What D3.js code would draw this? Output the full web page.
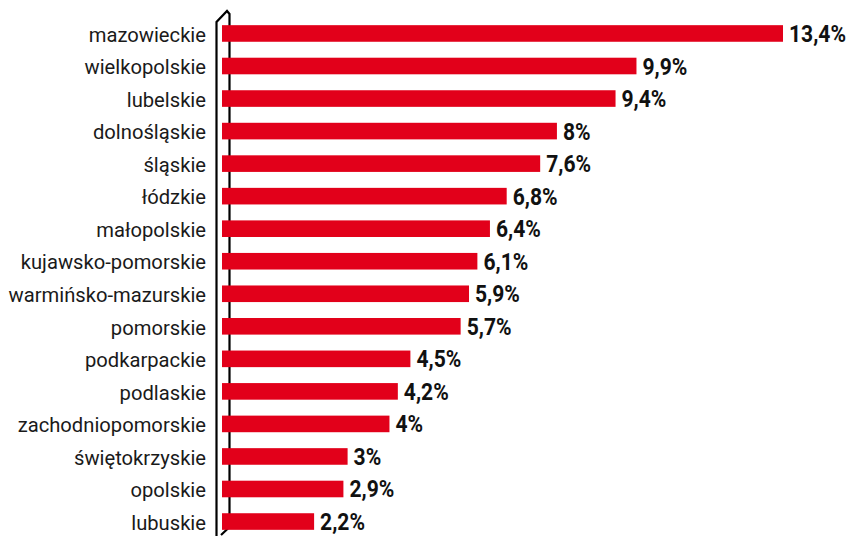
<!DOCTYPE html>
<html><head><meta charset="utf-8">
<script src="https://cdn.jsdelivr.net/npm/d3@7"></script>
<style>body{margin:0;background:#fff}</style>
</head><body>
<svg id="c" width="849" height="536"></svg>
<script>
const categories = ["mazowieckie","wielkopolskie","lubelskie","dolnośląskie","śląskie","łódzkie","małopolskie","kujawsko-pomorskie","warmińsko-mazurskie","pomorskie","podkarpackie","podlaskie","zachodniopomorskie","świętokrzyskie","opolskie","lubuskie"];
const values = [13.4,9.9,9.4,8,7.6,6.8,6.4,6.1,5.9,5.7,4.5,4.2,4,3,2.9,2.2];
const valueLabels = ["13,4%","9,9%","9,4%","8%","7,6%","6,8%","6,4%","6,1%","5,9%","5,7%","4,5%","4,2%","4%","3%","2,9%","2,2%"];

const svg = d3.select("#c");
const font = "Roboto,'Liberation Sans',sans-serif";
const x = d3.scaleLinear().domain([0, 13.4]).range([222, 783]);
const y = d3.scaleBand().domain(categories).range([17.2, 537.8]).paddingInner(0.49).paddingOuter(0.245);

// axis wall
svg.append("path")
  .attr("d", "M216.5,536 L216.5,22 L227,11 L229.5,14 L229.5,527 L221,535")
  .attr("fill", "none").attr("stroke", "#000").attr("stroke-width", 2.2).attr("stroke-linejoin","miter");

svg.selectAll("rect.bar").data(values).join("rect")
  .attr("class","bar")
  .attr("x", x(0))
  .attr("y", (d,i) => y(categories[i]))
  .attr("width", d => x(d) - x(0))
  .attr("height", y.bandwidth())
  .attr("fill", "#e2001a");

svg.selectAll("text.cat").data(categories).join("text")
  .attr("class","cat")
  .attr("x", 206)
  .attr("y", d => y(d) + y.bandwidth()/2 + 8.2)
  .attr("text-anchor","end")
  .attr("font-family", font)
  .attr("font-size", 20.2)
  .attr("fill", "#1a1a1a")
  .text(d => d);

svg.selectAll("text.val").data(values).join("text")
  .attr("class","val")
  .attr("transform", (d,i) => `translate(${x(d) + 6},${y(categories[i]) + y.bandwidth()/2 + 8.5}) scale(0.86,1)`)
  .attr("font-family", font)
  .attr("font-weight", "bold")
  .attr("font-size", 24.5)
  .attr("fill", "#111")
  .text((d,i) => valueLabels[i]);
</script>
</body></html>
